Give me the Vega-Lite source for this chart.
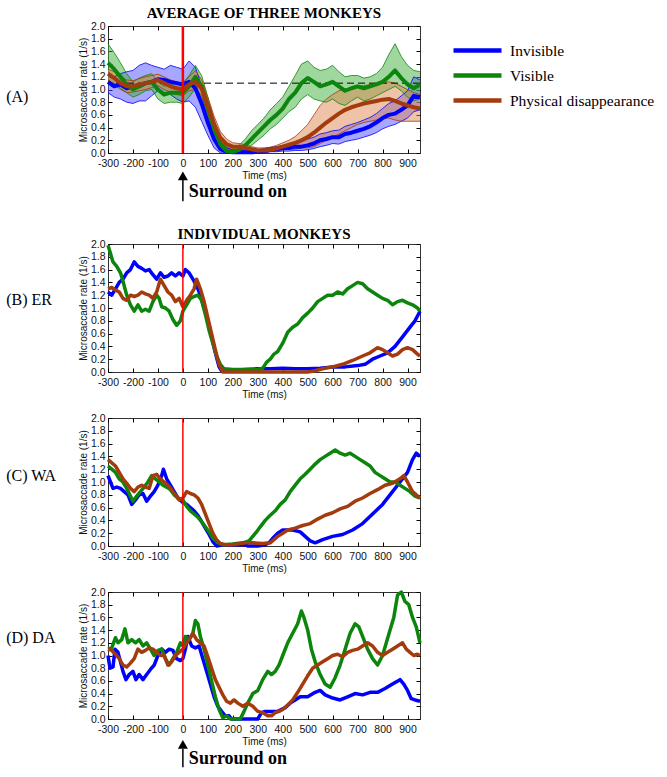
{
"$schema": "https://vega.github.io/schema/vega-lite/v6.json",
"padding": 5,
"config": {
 "view": {"stroke": "#333", "strokeWidth": 1},
 "axis": {"grid": false, "domain": false, "tickColor": "#000", "tickWidth": 1, "tickSize": -4, "labelOverlap": false, "labelFlush": false, "labelFont": "Liberation Sans", "labelFontSize": 10.5, "labelColor": "#111", "titleFont": "Liberation Sans", "titleFontSize": 10, "titleFontWeight": "normal", "titleColor": "#111"},
 "title": {"font": "Liberation Serif", "fontSize": 15, "fontWeight": "bold", "color": "#000", "frame": "group", "anchor": "middle"}
},
"resolve": {"scale": {"color": "independent", "fill": "independent"}},
"spacing": 23,
"datasets": {
 "avg": [
  {"c":"Invisible","t":-300,"v":1.12,"lo":0.95,"hi":1.22},{"c":"Invisible","t":-275,"v":1.05,"lo":0.88,"hi":1.2},{"c":"Invisible","t":-250,"v":1.08,"lo":0.85,"hi":1.25},{"c":"Invisible","t":-225,"v":1.02,"lo":0.8,"hi":1.28},{"c":"Invisible","t":-200,"v":1.05,"lo":0.78,"hi":1.3},{"c":"Invisible","t":-175,"v":1.05,"lo":0.82,"hi":1.38},{"c":"Invisible","t":-150,"v":1.1,"lo":0.82,"hi":1.42},{"c":"Invisible","t":-125,"v":1.12,"lo":0.9,"hi":1.38},{"c":"Invisible","t":-100,"v":1.16,"lo":0.98,"hi":1.35},{"c":"Invisible","t":-75,"v":1.15,"lo":0.95,"hi":1.32},{"c":"Invisible","t":-50,"v":1.12,"lo":0.92,"hi":1.38},{"c":"Invisible","t":-25,"v":1.1,"lo":0.85,"hi":1.35},{"c":"Invisible","t":0,"v":1.08,"lo":0.8,"hi":1.32},{"c":"Invisible","t":25,"v":1.12,"lo":0.82,"hi":1.45},{"c":"Invisible","t":50,"v":1.02,"lo":0.72,"hi":1.35},{"c":"Invisible","t":75,"v":0.78,"lo":0.5,"hi":1.05},{"c":"Invisible","t":100,"v":0.48,"lo":0.28,"hi":0.72},{"c":"Invisible","t":125,"v":0.22,"lo":0.08,"hi":0.42},{"c":"Invisible","t":150,"v":0.06,"lo":0.0,"hi":0.18},{"c":"Invisible","t":175,"v":0.02,"lo":0.0,"hi":0.08},{"c":"Invisible","t":200,"v":0.01,"lo":0.0,"hi":0.05},{"c":"Invisible","t":225,"v":0.01,"lo":0.0,"hi":0.04},{"c":"Invisible","t":250,"v":0.01,"lo":0.0,"hi":0.04},{"c":"Invisible","t":275,"v":0.01,"lo":0.0,"hi":0.04},{"c":"Invisible","t":300,"v":0.02,"lo":0.0,"hi":0.05},{"c":"Invisible","t":325,"v":0.03,"lo":0.0,"hi":0.07},{"c":"Invisible","t":350,"v":0.05,"lo":0.02,"hi":0.09},{"c":"Invisible","t":375,"v":0.06,"lo":0.02,"hi":0.1},{"c":"Invisible","t":400,"v":0.08,"lo":0.03,"hi":0.12},{"c":"Invisible","t":425,"v":0.08,"lo":0.03,"hi":0.13},{"c":"Invisible","t":450,"v":0.1,"lo":0.04,"hi":0.16},{"c":"Invisible","t":475,"v":0.1,"lo":0.04,"hi":0.18},{"c":"Invisible","t":500,"v":0.12,"lo":0.05,"hi":0.22},{"c":"Invisible","t":525,"v":0.15,"lo":0.07,"hi":0.25},{"c":"Invisible","t":550,"v":0.2,"lo":0.1,"hi":0.3},{"c":"Invisible","t":575,"v":0.22,"lo":0.12,"hi":0.32},{"c":"Invisible","t":600,"v":0.25,"lo":0.15,"hi":0.35},{"c":"Invisible","t":625,"v":0.25,"lo":0.14,"hi":0.36},{"c":"Invisible","t":650,"v":0.3,"lo":0.18,"hi":0.42},{"c":"Invisible","t":675,"v":0.32,"lo":0.2,"hi":0.45},{"c":"Invisible","t":700,"v":0.35,"lo":0.22,"hi":0.48},{"c":"Invisible","t":725,"v":0.38,"lo":0.25,"hi":0.52},{"c":"Invisible","t":750,"v":0.42,"lo":0.28,"hi":0.56},{"c":"Invisible","t":775,"v":0.48,"lo":0.32,"hi":0.62},{"c":"Invisible","t":800,"v":0.55,"lo":0.38,"hi":0.7},{"c":"Invisible","t":825,"v":0.6,"lo":0.42,"hi":0.78},{"c":"Invisible","t":850,"v":0.62,"lo":0.45,"hi":0.82},{"c":"Invisible","t":875,"v":0.68,"lo":0.5,"hi":0.9},{"c":"Invisible","t":900,"v":0.75,"lo":0.55,"hi":0.98},{"c":"Invisible","t":925,"v":0.9,"lo":0.65,"hi":1.2},{"c":"Invisible","t":950,"v":0.88,"lo":0.68,"hi":1.15},
  {"c":"Visible","t":-300,"v":1.42,"lo":1.12,"hi":1.72},{"c":"Visible","t":-275,"v":1.32,"lo":1.1,"hi":1.58},{"c":"Visible","t":-250,"v":1.2,"lo":1.02,"hi":1.42},{"c":"Visible","t":-225,"v":1.08,"lo":0.95,"hi":1.25},{"c":"Visible","t":-200,"v":1.0,"lo":0.88,"hi":1.12},{"c":"Visible","t":-175,"v":1.05,"lo":0.92,"hi":1.18},{"c":"Visible","t":-150,"v":1.1,"lo":0.98,"hi":1.22},{"c":"Visible","t":-125,"v":1.12,"lo":1.0,"hi":1.25},{"c":"Visible","t":-100,"v":1.0,"lo":0.85,"hi":1.12},{"c":"Visible","t":-75,"v":0.92,"lo":0.78,"hi":1.05},{"c":"Visible","t":-50,"v":0.95,"lo":0.8,"hi":1.08},{"c":"Visible","t":-25,"v":0.95,"lo":0.8,"hi":1.1},{"c":"Visible","t":0,"v":0.95,"lo":0.78,"hi":1.1},{"c":"Visible","t":25,"v":1.05,"lo":0.88,"hi":1.22},{"c":"Visible","t":50,"v":1.2,"lo":1.02,"hi":1.38},{"c":"Visible","t":75,"v":1.05,"lo":0.9,"hi":1.22},{"c":"Visible","t":100,"v":0.72,"lo":0.58,"hi":0.88},{"c":"Visible","t":125,"v":0.38,"lo":0.25,"hi":0.52},{"c":"Visible","t":150,"v":0.14,"lo":0.06,"hi":0.25},{"c":"Visible","t":175,"v":0.03,"lo":0.0,"hi":0.1},{"c":"Visible","t":200,"v":0.02,"lo":0.0,"hi":0.08},{"c":"Visible","t":225,"v":0.05,"lo":0.01,"hi":0.12},{"c":"Visible","t":250,"v":0.12,"lo":0.05,"hi":0.22},{"c":"Visible","t":275,"v":0.22,"lo":0.12,"hi":0.35},{"c":"Visible","t":300,"v":0.32,"lo":0.2,"hi":0.45},{"c":"Visible","t":325,"v":0.42,"lo":0.28,"hi":0.55},{"c":"Visible","t":350,"v":0.52,"lo":0.38,"hi":0.68},{"c":"Visible","t":375,"v":0.6,"lo":0.45,"hi":0.78},{"c":"Visible","t":400,"v":0.7,"lo":0.55,"hi":0.88},{"c":"Visible","t":425,"v":0.85,"lo":0.65,"hi":1.05},{"c":"Visible","t":450,"v":0.95,"lo":0.72,"hi":1.22},{"c":"Visible","t":475,"v":1.1,"lo":0.85,"hi":1.4},{"c":"Visible","t":500,"v":1.18,"lo":0.92,"hi":1.45},{"c":"Visible","t":525,"v":1.12,"lo":0.85,"hi":1.35},{"c":"Visible","t":550,"v":1.05,"lo":0.82,"hi":1.3},{"c":"Visible","t":575,"v":1.08,"lo":0.8,"hi":1.32},{"c":"Visible","t":600,"v":1.12,"lo":0.85,"hi":1.38},{"c":"Visible","t":625,"v":1.05,"lo":0.78,"hi":1.28},{"c":"Visible","t":650,"v":0.98,"lo":0.75,"hi":1.2},{"c":"Visible","t":675,"v":1.02,"lo":0.82,"hi":1.22},{"c":"Visible","t":700,"v":1.05,"lo":0.88,"hi":1.22},{"c":"Visible","t":725,"v":1.02,"lo":0.82,"hi":1.18},{"c":"Visible","t":750,"v":1.05,"lo":0.85,"hi":1.2},{"c":"Visible","t":775,"v":1.08,"lo":0.9,"hi":1.25},{"c":"Visible","t":800,"v":1.12,"lo":0.95,"hi":1.35},{"c":"Visible","t":825,"v":1.2,"lo":1.0,"hi":1.55},{"c":"Visible","t":850,"v":1.3,"lo":1.05,"hi":1.72},{"c":"Visible","t":875,"v":1.18,"lo":0.98,"hi":1.52},{"c":"Visible","t":900,"v":1.08,"lo":0.88,"hi":1.38},{"c":"Visible","t":925,"v":1.02,"lo":0.82,"hi":1.3},{"c":"Visible","t":950,"v":1.08,"lo":0.85,"hi":1.28},
  {"c":"Physical disappearance","t":-300,"v":1.25,"lo":1.15,"hi":1.32},{"c":"Physical disappearance","t":-275,"v":1.18,"lo":1.08,"hi":1.28},{"c":"Physical disappearance","t":-250,"v":1.1,"lo":1.0,"hi":1.2},{"c":"Physical disappearance","t":-225,"v":1.05,"lo":0.95,"hi":1.15},{"c":"Physical disappearance","t":-200,"v":1.05,"lo":0.96,"hi":1.14},{"c":"Physical disappearance","t":-175,"v":1.08,"lo":0.98,"hi":1.17},{"c":"Physical disappearance","t":-150,"v":1.1,"lo":1.0,"hi":1.2},{"c":"Physical disappearance","t":-125,"v":1.12,"lo":1.03,"hi":1.22},{"c":"Physical disappearance","t":-100,"v":1.15,"lo":1.06,"hi":1.24},{"c":"Physical disappearance","t":-75,"v":1.1,"lo":1.0,"hi":1.2},{"c":"Physical disappearance","t":-50,"v":1.05,"lo":0.96,"hi":1.15},{"c":"Physical disappearance","t":-25,"v":1.02,"lo":0.92,"hi":1.12},{"c":"Physical disappearance","t":0,"v":1.0,"lo":0.9,"hi":1.1},{"c":"Physical disappearance","t":25,"v":1.08,"lo":0.98,"hi":1.2},{"c":"Physical disappearance","t":50,"v":1.12,"lo":1.0,"hi":1.3},{"c":"Physical disappearance","t":75,"v":1.02,"lo":0.9,"hi":1.15},{"c":"Physical disappearance","t":100,"v":0.75,"lo":0.62,"hi":0.88},{"c":"Physical disappearance","t":125,"v":0.45,"lo":0.35,"hi":0.58},{"c":"Physical disappearance","t":150,"v":0.24,"lo":0.15,"hi":0.34},{"c":"Physical disappearance","t":175,"v":0.14,"lo":0.08,"hi":0.22},{"c":"Physical disappearance","t":200,"v":0.1,"lo":0.05,"hi":0.16},{"c":"Physical disappearance","t":225,"v":0.1,"lo":0.05,"hi":0.15},{"c":"Physical disappearance","t":250,"v":0.08,"lo":0.04,"hi":0.13},{"c":"Physical disappearance","t":275,"v":0.06,"lo":0.03,"hi":0.1},{"c":"Physical disappearance","t":300,"v":0.04,"lo":0.01,"hi":0.08},{"c":"Physical disappearance","t":325,"v":0.04,"lo":0.01,"hi":0.08},{"c":"Physical disappearance","t":350,"v":0.05,"lo":0.02,"hi":0.09},{"c":"Physical disappearance","t":375,"v":0.07,"lo":0.03,"hi":0.12},{"c":"Physical disappearance","t":400,"v":0.1,"lo":0.05,"hi":0.16},{"c":"Physical disappearance","t":425,"v":0.13,"lo":0.06,"hi":0.2},{"c":"Physical disappearance","t":450,"v":0.16,"lo":0.06,"hi":0.26},{"c":"Physical disappearance","t":475,"v":0.2,"lo":0.08,"hi":0.35},{"c":"Physical disappearance","t":500,"v":0.25,"lo":0.08,"hi":0.45},{"c":"Physical disappearance","t":525,"v":0.32,"lo":0.1,"hi":0.6},{"c":"Physical disappearance","t":550,"v":0.4,"lo":0.15,"hi":0.75},{"c":"Physical disappearance","t":575,"v":0.48,"lo":0.2,"hi":0.85},{"c":"Physical disappearance","t":600,"v":0.55,"lo":0.25,"hi":0.92},{"c":"Physical disappearance","t":625,"v":0.62,"lo":0.3,"hi":0.98},{"c":"Physical disappearance","t":650,"v":0.68,"lo":0.35,"hi":1.0},{"c":"Physical disappearance","t":675,"v":0.72,"lo":0.4,"hi":1.02},{"c":"Physical disappearance","t":700,"v":0.75,"lo":0.45,"hi":1.05},{"c":"Physical disappearance","t":725,"v":0.78,"lo":0.48,"hi":1.06},{"c":"Physical disappearance","t":750,"v":0.8,"lo":0.5,"hi":1.08},{"c":"Physical disappearance","t":775,"v":0.82,"lo":0.52,"hi":1.1},{"c":"Physical disappearance","t":800,"v":0.84,"lo":0.55,"hi":1.12},{"c":"Physical disappearance","t":825,"v":0.85,"lo":0.55,"hi":1.12},{"c":"Physical disappearance","t":850,"v":0.82,"lo":0.52,"hi":1.1},{"c":"Physical disappearance","t":875,"v":0.78,"lo":0.5,"hi":1.05},{"c":"Physical disappearance","t":900,"v":0.75,"lo":0.5,"hi":1.0},{"c":"Physical disappearance","t":925,"v":0.72,"lo":0.5,"hi":0.95},{"c":"Physical disappearance","t":950,"v":0.7,"lo":0.5,"hi":0.92}
 ],
 "ind": [
  {"p":"B","c":"Invisible","t":-300,"v":1.25},{"p":"B","c":"Invisible","t":-285,"v":1.2},{"p":"B","c":"Invisible","t":-270,"v":1.3},{"p":"B","c":"Invisible","t":-255,"v":1.4},{"p":"B","c":"Invisible","t":-240,"v":1.45},{"p":"B","c":"Invisible","t":-225,"v":1.55},{"p":"B","c":"Invisible","t":-210,"v":1.6},{"p":"B","c":"Invisible","t":-195,"v":1.72},{"p":"B","c":"Invisible","t":-180,"v":1.65},{"p":"B","c":"Invisible","t":-165,"v":1.62},{"p":"B","c":"Invisible","t":-150,"v":1.58},{"p":"B","c":"Invisible","t":-135,"v":1.6},{"p":"B","c":"Invisible","t":-120,"v":1.52},{"p":"B","c":"Invisible","t":-105,"v":1.45},{"p":"B","c":"Invisible","t":-90,"v":1.55},{"p":"B","c":"Invisible","t":-75,"v":1.48},{"p":"B","c":"Invisible","t":-60,"v":1.5},{"p":"B","c":"Invisible","t":-45,"v":1.55},{"p":"B","c":"Invisible","t":-30,"v":1.5},{"p":"B","c":"Invisible","t":-15,"v":1.55},{"p":"B","c":"Invisible","t":0,"v":1.5},{"p":"B","c":"Invisible","t":10,"v":1.6},{"p":"B","c":"Invisible","t":25,"v":1.55},{"p":"B","c":"Invisible","t":40,"v":1.45},{"p":"B","c":"Invisible","t":55,"v":1.35},{"p":"B","c":"Invisible","t":70,"v":1.2},{"p":"B","c":"Invisible","t":85,"v":1.0},{"p":"B","c":"Invisible","t":100,"v":0.8},{"p":"B","c":"Invisible","t":115,"v":0.55},{"p":"B","c":"Invisible","t":130,"v":0.3},{"p":"B","c":"Invisible","t":145,"v":0.08},{"p":"B","c":"Invisible","t":155,"v":0.02},{"p":"B","c":"Invisible","t":200,"v":0.02},{"p":"B","c":"Invisible","t":250,"v":0.04},{"p":"B","c":"Invisible","t":300,"v":0.05},{"p":"B","c":"Invisible","t":350,"v":0.05},{"p":"B","c":"Invisible","t":400,"v":0.06},{"p":"B","c":"Invisible","t":450,"v":0.05},{"p":"B","c":"Invisible","t":500,"v":0.05},{"p":"B","c":"Invisible","t":550,"v":0.06},{"p":"B","c":"Invisible","t":600,"v":0.08},{"p":"B","c":"Invisible","t":650,"v":0.08},{"p":"B","c":"Invisible","t":700,"v":0.1},{"p":"B","c":"Invisible","t":730,"v":0.12},{"p":"B","c":"Invisible","t":760,"v":0.2},{"p":"B","c":"Invisible","t":790,"v":0.25},{"p":"B","c":"Invisible","t":820,"v":0.3},{"p":"B","c":"Invisible","t":850,"v":0.4},{"p":"B","c":"Invisible","t":880,"v":0.55},{"p":"B","c":"Invisible","t":910,"v":0.7},{"p":"B","c":"Invisible","t":930,"v":0.8},{"p":"B","c":"Invisible","t":950,"v":0.95},
  {"p":"B","c":"Visible","t":-300,"v":1.98},{"p":"B","c":"Visible","t":-290,"v":1.85},{"p":"B","c":"Visible","t":-280,"v":1.72},{"p":"B","c":"Visible","t":-265,"v":1.65},{"p":"B","c":"Visible","t":-250,"v":1.55},{"p":"B","c":"Visible","t":-240,"v":1.42},{"p":"B","c":"Visible","t":-225,"v":1.2},{"p":"B","c":"Visible","t":-210,"v":1.05},{"p":"B","c":"Visible","t":-195,"v":0.95},{"p":"B","c":"Visible","t":-180,"v":1.05},{"p":"B","c":"Visible","t":-165,"v":0.95},{"p":"B","c":"Visible","t":-150,"v":0.98},{"p":"B","c":"Visible","t":-135,"v":0.95},{"p":"B","c":"Visible","t":-120,"v":1.1},{"p":"B","c":"Visible","t":-105,"v":1.2},{"p":"B","c":"Visible","t":-95,"v":1.15},{"p":"B","c":"Visible","t":-85,"v":1.02},{"p":"B","c":"Visible","t":-70,"v":1.0},{"p":"B","c":"Visible","t":-55,"v":0.95},{"p":"B","c":"Visible","t":-40,"v":0.82},{"p":"B","c":"Visible","t":-25,"v":0.73},{"p":"B","c":"Visible","t":-10,"v":0.8},{"p":"B","c":"Visible","t":0,"v":0.95},{"p":"B","c":"Visible","t":15,"v":1.05},{"p":"B","c":"Visible","t":30,"v":1.15},{"p":"B","c":"Visible","t":45,"v":1.18},{"p":"B","c":"Visible","t":60,"v":1.2},{"p":"B","c":"Visible","t":75,"v":1.12},{"p":"B","c":"Visible","t":90,"v":0.9},{"p":"B","c":"Visible","t":105,"v":0.65},{"p":"B","c":"Visible","t":120,"v":0.45},{"p":"B","c":"Visible","t":135,"v":0.25},{"p":"B","c":"Visible","t":150,"v":0.12},{"p":"B","c":"Visible","t":165,"v":0.05},{"p":"B","c":"Visible","t":200,"v":0.04},{"p":"B","c":"Visible","t":250,"v":0.04},{"p":"B","c":"Visible","t":300,"v":0.04},{"p":"B","c":"Visible","t":320,"v":0.06},{"p":"B","c":"Visible","t":335,"v":0.15},{"p":"B","c":"Visible","t":350,"v":0.2},{"p":"B","c":"Visible","t":365,"v":0.28},{"p":"B","c":"Visible","t":380,"v":0.32},{"p":"B","c":"Visible","t":400,"v":0.45},{"p":"B","c":"Visible","t":420,"v":0.62},{"p":"B","c":"Visible","t":440,"v":0.7},{"p":"B","c":"Visible","t":460,"v":0.75},{"p":"B","c":"Visible","t":480,"v":0.85},{"p":"B","c":"Visible","t":500,"v":0.92},{"p":"B","c":"Visible","t":520,"v":1.0},{"p":"B","c":"Visible","t":540,"v":1.1},{"p":"B","c":"Visible","t":560,"v":1.15},{"p":"B","c":"Visible","t":580,"v":1.2},{"p":"B","c":"Visible","t":600,"v":1.2},{"p":"B","c":"Visible","t":620,"v":1.25},{"p":"B","c":"Visible","t":640,"v":1.22},{"p":"B","c":"Visible","t":660,"v":1.3},{"p":"B","c":"Visible","t":680,"v":1.35},{"p":"B","c":"Visible","t":700,"v":1.4},{"p":"B","c":"Visible","t":720,"v":1.38},{"p":"B","c":"Visible","t":740,"v":1.3},{"p":"B","c":"Visible","t":760,"v":1.25},{"p":"B","c":"Visible","t":780,"v":1.2},{"p":"B","c":"Visible","t":800,"v":1.15},{"p":"B","c":"Visible","t":820,"v":1.12},{"p":"B","c":"Visible","t":840,"v":1.05},{"p":"B","c":"Visible","t":860,"v":1.1},{"p":"B","c":"Visible","t":880,"v":1.12},{"p":"B","c":"Visible","t":900,"v":1.08},{"p":"B","c":"Visible","t":920,"v":1.05},{"p":"B","c":"Visible","t":940,"v":1.0},{"p":"B","c":"Visible","t":950,"v":0.95},
  {"p":"B","c":"Physical disappearance","t":-300,"v":1.3},{"p":"B","c":"Physical disappearance","t":-285,"v":1.32},{"p":"B","c":"Physical disappearance","t":-270,"v":1.28},{"p":"B","c":"Physical disappearance","t":-255,"v":1.25},{"p":"B","c":"Physical disappearance","t":-240,"v":1.15},{"p":"B","c":"Physical disappearance","t":-225,"v":1.12},{"p":"B","c":"Physical disappearance","t":-210,"v":1.2},{"p":"B","c":"Physical disappearance","t":-195,"v":1.18},{"p":"B","c":"Physical disappearance","t":-180,"v":1.2},{"p":"B","c":"Physical disappearance","t":-165,"v":1.25},{"p":"B","c":"Physical disappearance","t":-150,"v":1.22},{"p":"B","c":"Physical disappearance","t":-135,"v":1.2},{"p":"B","c":"Physical disappearance","t":-120,"v":1.15},{"p":"B","c":"Physical disappearance","t":-105,"v":1.25},{"p":"B","c":"Physical disappearance","t":-90,"v":1.45},{"p":"B","c":"Physical disappearance","t":-75,"v":1.35},{"p":"B","c":"Physical disappearance","t":-60,"v":1.25},{"p":"B","c":"Physical disappearance","t":-45,"v":1.2},{"p":"B","c":"Physical disappearance","t":-30,"v":1.1},{"p":"B","c":"Physical disappearance","t":-15,"v":1.15},{"p":"B","c":"Physical disappearance","t":0,"v":1.02},{"p":"B","c":"Physical disappearance","t":15,"v":1.12},{"p":"B","c":"Physical disappearance","t":30,"v":1.2},{"p":"B","c":"Physical disappearance","t":45,"v":1.3},{"p":"B","c":"Physical disappearance","t":55,"v":1.45},{"p":"B","c":"Physical disappearance","t":70,"v":1.3},{"p":"B","c":"Physical disappearance","t":85,"v":1.1},{"p":"B","c":"Physical disappearance","t":100,"v":0.85},{"p":"B","c":"Physical disappearance","t":115,"v":0.6},{"p":"B","c":"Physical disappearance","t":130,"v":0.35},{"p":"B","c":"Physical disappearance","t":145,"v":0.12},{"p":"B","c":"Physical disappearance","t":160,"v":0.0},{"p":"B","c":"Physical disappearance","t":300,"v":0.0},{"p":"B","c":"Physical disappearance","t":500,"v":0.0},{"p":"B","c":"Physical disappearance","t":530,"v":0.02},{"p":"B","c":"Physical disappearance","t":560,"v":0.05},{"p":"B","c":"Physical disappearance","t":600,"v":0.08},{"p":"B","c":"Physical disappearance","t":640,"v":0.12},{"p":"B","c":"Physical disappearance","t":680,"v":0.18},{"p":"B","c":"Physical disappearance","t":720,"v":0.25},{"p":"B","c":"Physical disappearance","t":750,"v":0.3},{"p":"B","c":"Physical disappearance","t":780,"v":0.38},{"p":"B","c":"Physical disappearance","t":800,"v":0.35},{"p":"B","c":"Physical disappearance","t":820,"v":0.3},{"p":"B","c":"Physical disappearance","t":840,"v":0.25},{"p":"B","c":"Physical disappearance","t":860,"v":0.28},{"p":"B","c":"Physical disappearance","t":880,"v":0.35},{"p":"B","c":"Physical disappearance","t":900,"v":0.38},{"p":"B","c":"Physical disappearance","t":920,"v":0.35},{"p":"B","c":"Physical disappearance","t":940,"v":0.28},{"p":"B","c":"Physical disappearance","t":950,"v":0.25},
  {"p":"C","c":"Invisible","t":-300,"v":1.1},{"p":"C","c":"Invisible","t":-290,"v":1.0},{"p":"C","c":"Invisible","t":-280,"v":0.9},{"p":"C","c":"Invisible","t":-265,"v":0.92},{"p":"C","c":"Invisible","t":-250,"v":0.9},{"p":"C","c":"Invisible","t":-235,"v":0.85},{"p":"C","c":"Invisible","t":-220,"v":0.8},{"p":"C","c":"Invisible","t":-205,"v":0.65},{"p":"C","c":"Invisible","t":-190,"v":0.72},{"p":"C","c":"Invisible","t":-175,"v":0.8},{"p":"C","c":"Invisible","t":-160,"v":0.82},{"p":"C","c":"Invisible","t":-145,"v":0.7},{"p":"C","c":"Invisible","t":-130,"v":0.78},{"p":"C","c":"Invisible","t":-115,"v":0.85},{"p":"C","c":"Invisible","t":-100,"v":0.95},{"p":"C","c":"Invisible","t":-85,"v":1.1},{"p":"C","c":"Invisible","t":-78,"v":1.2},{"p":"C","c":"Invisible","t":-65,"v":1.05},{"p":"C","c":"Invisible","t":-50,"v":0.95},{"p":"C","c":"Invisible","t":-35,"v":0.85},{"p":"C","c":"Invisible","t":-20,"v":0.75},{"p":"C","c":"Invisible","t":0,"v":0.68},{"p":"C","c":"Invisible","t":15,"v":0.65},{"p":"C","c":"Invisible","t":30,"v":0.6},{"p":"C","c":"Invisible","t":45,"v":0.55},{"p":"C","c":"Invisible","t":60,"v":0.48},{"p":"C","c":"Invisible","t":75,"v":0.38},{"p":"C","c":"Invisible","t":90,"v":0.28},{"p":"C","c":"Invisible","t":105,"v":0.18},{"p":"C","c":"Invisible","t":120,"v":0.07},{"p":"C","c":"Invisible","t":135,"v":0.0},{"p":"C","c":"Invisible","t":160,"v":0.02},{"p":"C","c":"Invisible","t":250,"v":0.02},{"p":"C","c":"Invisible","t":260,"v":0.0},{"p":"C","c":"Invisible","t":300,"v":0.0},{"p":"C","c":"Invisible","t":330,"v":0.02},{"p":"C","c":"Invisible","t":345,"v":0.05},{"p":"C","c":"Invisible","t":360,"v":0.12},{"p":"C","c":"Invisible","t":380,"v":0.2},{"p":"C","c":"Invisible","t":400,"v":0.25},{"p":"C","c":"Invisible","t":440,"v":0.25},{"p":"C","c":"Invisible","t":470,"v":0.22},{"p":"C","c":"Invisible","t":490,"v":0.15},{"p":"C","c":"Invisible","t":510,"v":0.08},{"p":"C","c":"Invisible","t":530,"v":0.05},{"p":"C","c":"Invisible","t":560,"v":0.1},{"p":"C","c":"Invisible","t":600,"v":0.15},{"p":"C","c":"Invisible","t":640,"v":0.18},{"p":"C","c":"Invisible","t":680,"v":0.25},{"p":"C","c":"Invisible","t":720,"v":0.35},{"p":"C","c":"Invisible","t":760,"v":0.5},{"p":"C","c":"Invisible","t":800,"v":0.65},{"p":"C","c":"Invisible","t":840,"v":0.85},{"p":"C","c":"Invisible","t":870,"v":1.0},{"p":"C","c":"Invisible","t":900,"v":1.15},{"p":"C","c":"Invisible","t":920,"v":1.35},{"p":"C","c":"Invisible","t":935,"v":1.45},{"p":"C","c":"Invisible","t":950,"v":1.4},
  {"p":"C","c":"Visible","t":-300,"v":1.25},{"p":"C","c":"Visible","t":-285,"v":1.2},{"p":"C","c":"Visible","t":-270,"v":1.15},{"p":"C","c":"Visible","t":-255,"v":1.05},{"p":"C","c":"Visible","t":-240,"v":1.0},{"p":"C","c":"Visible","t":-225,"v":0.9},{"p":"C","c":"Visible","t":-210,"v":0.78},{"p":"C","c":"Visible","t":-200,"v":0.7},{"p":"C","c":"Visible","t":-185,"v":0.78},{"p":"C","c":"Visible","t":-170,"v":0.85},{"p":"C","c":"Visible","t":-155,"v":0.92},{"p":"C","c":"Visible","t":-140,"v":1.0},{"p":"C","c":"Visible","t":-125,"v":1.1},{"p":"C","c":"Visible","t":-110,"v":1.05},{"p":"C","c":"Visible","t":-95,"v":1.0},{"p":"C","c":"Visible","t":-80,"v":0.95},{"p":"C","c":"Visible","t":-65,"v":0.92},{"p":"C","c":"Visible","t":-50,"v":0.88},{"p":"C","c":"Visible","t":-35,"v":0.8},{"p":"C","c":"Visible","t":-20,"v":0.75},{"p":"C","c":"Visible","t":0,"v":0.72},{"p":"C","c":"Visible","t":15,"v":0.62},{"p":"C","c":"Visible","t":30,"v":0.55},{"p":"C","c":"Visible","t":45,"v":0.5},{"p":"C","c":"Visible","t":60,"v":0.45},{"p":"C","c":"Visible","t":75,"v":0.38},{"p":"C","c":"Visible","t":90,"v":0.3},{"p":"C","c":"Visible","t":105,"v":0.22},{"p":"C","c":"Visible","t":120,"v":0.12},{"p":"C","c":"Visible","t":140,"v":0.05},{"p":"C","c":"Visible","t":160,"v":0.02},{"p":"C","c":"Visible","t":200,"v":0.03},{"p":"C","c":"Visible","t":240,"v":0.05},{"p":"C","c":"Visible","t":265,"v":0.08},{"p":"C","c":"Visible","t":280,"v":0.15},{"p":"C","c":"Visible","t":295,"v":0.22},{"p":"C","c":"Visible","t":310,"v":0.3},{"p":"C","c":"Visible","t":330,"v":0.4},{"p":"C","c":"Visible","t":350,"v":0.48},{"p":"C","c":"Visible","t":370,"v":0.55},{"p":"C","c":"Visible","t":390,"v":0.65},{"p":"C","c":"Visible","t":410,"v":0.72},{"p":"C","c":"Visible","t":430,"v":0.85},{"p":"C","c":"Visible","t":450,"v":0.95},{"p":"C","c":"Visible","t":470,"v":1.05},{"p":"C","c":"Visible","t":490,"v":1.12},{"p":"C","c":"Visible","t":510,"v":1.2},{"p":"C","c":"Visible","t":530,"v":1.28},{"p":"C","c":"Visible","t":550,"v":1.35},{"p":"C","c":"Visible","t":570,"v":1.4},{"p":"C","c":"Visible","t":590,"v":1.45},{"p":"C","c":"Visible","t":610,"v":1.5},{"p":"C","c":"Visible","t":630,"v":1.45},{"p":"C","c":"Visible","t":650,"v":1.42},{"p":"C","c":"Visible","t":670,"v":1.45},{"p":"C","c":"Visible","t":690,"v":1.4},{"p":"C","c":"Visible","t":710,"v":1.35},{"p":"C","c":"Visible","t":730,"v":1.3},{"p":"C","c":"Visible","t":750,"v":1.25},{"p":"C","c":"Visible","t":770,"v":1.15},{"p":"C","c":"Visible","t":790,"v":1.1},{"p":"C","c":"Visible","t":810,"v":1.05},{"p":"C","c":"Visible","t":830,"v":1.0},{"p":"C","c":"Visible","t":850,"v":1.0},{"p":"C","c":"Visible","t":870,"v":0.95},{"p":"C","c":"Visible","t":890,"v":0.9},{"p":"C","c":"Visible","t":910,"v":0.85},{"p":"C","c":"Visible","t":930,"v":0.78},{"p":"C","c":"Visible","t":950,"v":0.75},
  {"p":"C","c":"Physical disappearance","t":-300,"v":1.35},{"p":"C","c":"Physical disappearance","t":-285,"v":1.3},{"p":"C","c":"Physical disappearance","t":-270,"v":1.25},{"p":"C","c":"Physical disappearance","t":-255,"v":1.15},{"p":"C","c":"Physical disappearance","t":-240,"v":1.05},{"p":"C","c":"Physical disappearance","t":-225,"v":0.98},{"p":"C","c":"Physical disappearance","t":-210,"v":0.9},{"p":"C","c":"Physical disappearance","t":-195,"v":0.85},{"p":"C","c":"Physical disappearance","t":-180,"v":0.92},{"p":"C","c":"Physical disappearance","t":-165,"v":0.95},{"p":"C","c":"Physical disappearance","t":-150,"v":0.92},{"p":"C","c":"Physical disappearance","t":-135,"v":0.9},{"p":"C","c":"Physical disappearance","t":-120,"v":1.1},{"p":"C","c":"Physical disappearance","t":-105,"v":1.12},{"p":"C","c":"Physical disappearance","t":-90,"v":1.05},{"p":"C","c":"Physical disappearance","t":-75,"v":1.0},{"p":"C","c":"Physical disappearance","t":-60,"v":0.95},{"p":"C","c":"Physical disappearance","t":-45,"v":0.88},{"p":"C","c":"Physical disappearance","t":-30,"v":0.8},{"p":"C","c":"Physical disappearance","t":-15,"v":0.72},{"p":"C","c":"Physical disappearance","t":0,"v":0.75},{"p":"C","c":"Physical disappearance","t":15,"v":0.85},{"p":"C","c":"Physical disappearance","t":30,"v":0.82},{"p":"C","c":"Physical disappearance","t":45,"v":0.8},{"p":"C","c":"Physical disappearance","t":60,"v":0.75},{"p":"C","c":"Physical disappearance","t":75,"v":0.65},{"p":"C","c":"Physical disappearance","t":90,"v":0.5},{"p":"C","c":"Physical disappearance","t":105,"v":0.35},{"p":"C","c":"Physical disappearance","t":120,"v":0.2},{"p":"C","c":"Physical disappearance","t":135,"v":0.1},{"p":"C","c":"Physical disappearance","t":150,"v":0.04},{"p":"C","c":"Physical disappearance","t":170,"v":0.02},{"p":"C","c":"Physical disappearance","t":200,"v":0.02},{"p":"C","c":"Physical disappearance","t":250,"v":0.05},{"p":"C","c":"Physical disappearance","t":280,"v":0.05},{"p":"C","c":"Physical disappearance","t":320,"v":0.04},{"p":"C","c":"Physical disappearance","t":350,"v":0.05},{"p":"C","c":"Physical disappearance","t":365,"v":0.1},{"p":"C","c":"Physical disappearance","t":380,"v":0.15},{"p":"C","c":"Physical disappearance","t":400,"v":0.2},{"p":"C","c":"Physical disappearance","t":420,"v":0.25},{"p":"C","c":"Physical disappearance","t":450,"v":0.28},{"p":"C","c":"Physical disappearance","t":480,"v":0.32},{"p":"C","c":"Physical disappearance","t":510,"v":0.35},{"p":"C","c":"Physical disappearance","t":540,"v":0.42},{"p":"C","c":"Physical disappearance","t":570,"v":0.48},{"p":"C","c":"Physical disappearance","t":600,"v":0.52},{"p":"C","c":"Physical disappearance","t":630,"v":0.58},{"p":"C","c":"Physical disappearance","t":660,"v":0.62},{"p":"C","c":"Physical disappearance","t":690,"v":0.7},{"p":"C","c":"Physical disappearance","t":720,"v":0.75},{"p":"C","c":"Physical disappearance","t":750,"v":0.82},{"p":"C","c":"Physical disappearance","t":780,"v":0.88},{"p":"C","c":"Physical disappearance","t":810,"v":0.95},{"p":"C","c":"Physical disappearance","t":840,"v":0.98},{"p":"C","c":"Physical disappearance","t":870,"v":1.05},{"p":"C","c":"Physical disappearance","t":885,"v":1.1},{"p":"C","c":"Physical disappearance","t":900,"v":1.0},{"p":"C","c":"Physical disappearance","t":920,"v":0.85},{"p":"C","c":"Physical disappearance","t":935,"v":0.8},{"p":"C","c":"Physical disappearance","t":950,"v":0.75},
  {"p":"D","c":"Invisible","t":-300,"v":1.0},{"p":"D","c":"Invisible","t":-292,"v":0.8},{"p":"D","c":"Invisible","t":-280,"v":0.82},{"p":"D","c":"Invisible","t":-272,"v":1.1},{"p":"D","c":"Invisible","t":-260,"v":1.05},{"p":"D","c":"Invisible","t":-250,"v":0.9},{"p":"D","c":"Invisible","t":-240,"v":0.75},{"p":"D","c":"Invisible","t":-228,"v":0.62},{"p":"D","c":"Invisible","t":-215,"v":0.7},{"p":"D","c":"Invisible","t":-200,"v":0.75},{"p":"D","c":"Invisible","t":-188,"v":0.62},{"p":"D","c":"Invisible","t":-175,"v":0.7},{"p":"D","c":"Invisible","t":-160,"v":0.62},{"p":"D","c":"Invisible","t":-145,"v":0.7},{"p":"D","c":"Invisible","t":-130,"v":0.78},{"p":"D","c":"Invisible","t":-115,"v":0.85},{"p":"D","c":"Invisible","t":-100,"v":1.0},{"p":"D","c":"Invisible","t":-85,"v":1.1},{"p":"D","c":"Invisible","t":-70,"v":1.05},{"p":"D","c":"Invisible","t":-55,"v":1.1},{"p":"D","c":"Invisible","t":-40,"v":1.08},{"p":"D","c":"Invisible","t":-25,"v":0.95},{"p":"D","c":"Invisible","t":-10,"v":0.92},{"p":"D","c":"Invisible","t":0,"v":0.95},{"p":"D","c":"Invisible","t":10,"v":1.1},{"p":"D","c":"Invisible","t":20,"v":1.3},{"p":"D","c":"Invisible","t":35,"v":1.15},{"p":"D","c":"Invisible","t":50,"v":1.12},{"p":"D","c":"Invisible","t":65,"v":1.15},{"p":"D","c":"Invisible","t":80,"v":0.95},{"p":"D","c":"Invisible","t":95,"v":0.75},{"p":"D","c":"Invisible","t":110,"v":0.55},{"p":"D","c":"Invisible","t":125,"v":0.35},{"p":"D","c":"Invisible","t":140,"v":0.2},{"p":"D","c":"Invisible","t":155,"v":0.12},{"p":"D","c":"Invisible","t":170,"v":0.05},{"p":"D","c":"Invisible","t":185,"v":0.05},{"p":"D","c":"Invisible","t":195,"v":0.0},{"p":"D","c":"Invisible","t":300,"v":0.0},{"p":"D","c":"Invisible","t":315,"v":0.1},{"p":"D","c":"Invisible","t":330,"v":0.12},{"p":"D","c":"Invisible","t":380,"v":0.12},{"p":"D","c":"Invisible","t":410,"v":0.18},{"p":"D","c":"Invisible","t":430,"v":0.25},{"p":"D","c":"Invisible","t":450,"v":0.3},{"p":"D","c":"Invisible","t":470,"v":0.35},{"p":"D","c":"Invisible","t":500,"v":0.35},{"p":"D","c":"Invisible","t":530,"v":0.42},{"p":"D","c":"Invisible","t":550,"v":0.45},{"p":"D","c":"Invisible","t":570,"v":0.38},{"p":"D","c":"Invisible","t":600,"v":0.33},{"p":"D","c":"Invisible","t":630,"v":0.3},{"p":"D","c":"Invisible","t":660,"v":0.35},{"p":"D","c":"Invisible","t":690,"v":0.4},{"p":"D","c":"Invisible","t":720,"v":0.38},{"p":"D","c":"Invisible","t":750,"v":0.42},{"p":"D","c":"Invisible","t":780,"v":0.42},{"p":"D","c":"Invisible","t":810,"v":0.48},{"p":"D","c":"Invisible","t":840,"v":0.55},{"p":"D","c":"Invisible","t":870,"v":0.62},{"p":"D","c":"Invisible","t":885,"v":0.55},{"p":"D","c":"Invisible","t":900,"v":0.45},{"p":"D","c":"Invisible","t":915,"v":0.32},{"p":"D","c":"Invisible","t":930,"v":0.3},{"p":"D","c":"Invisible","t":950,"v":0.28},
  {"p":"D","c":"Visible","t":-300,"v":1.1},{"p":"D","c":"Visible","t":-285,"v":1.12},{"p":"D","c":"Visible","t":-270,"v":1.28},{"p":"D","c":"Visible","t":-260,"v":1.2},{"p":"D","c":"Visible","t":-245,"v":1.25},{"p":"D","c":"Visible","t":-232,"v":1.42},{"p":"D","c":"Visible","t":-220,"v":1.2},{"p":"D","c":"Visible","t":-205,"v":1.25},{"p":"D","c":"Visible","t":-190,"v":1.2},{"p":"D","c":"Visible","t":-175,"v":1.25},{"p":"D","c":"Visible","t":-160,"v":1.15},{"p":"D","c":"Visible","t":-145,"v":1.2},{"p":"D","c":"Visible","t":-130,"v":1.1},{"p":"D","c":"Visible","t":-115,"v":1.0},{"p":"D","c":"Visible","t":-100,"v":1.08},{"p":"D","c":"Visible","t":-85,"v":1.1},{"p":"D","c":"Visible","t":-70,"v":0.95},{"p":"D","c":"Visible","t":-55,"v":0.85},{"p":"D","c":"Visible","t":-40,"v":0.95},{"p":"D","c":"Visible","t":-25,"v":1.05},{"p":"D","c":"Visible","t":-10,"v":1.2},{"p":"D","c":"Visible","t":0,"v":1.15},{"p":"D","c":"Visible","t":10,"v":1.3},{"p":"D","c":"Visible","t":25,"v":1.25},{"p":"D","c":"Visible","t":40,"v":1.35},{"p":"D","c":"Visible","t":50,"v":1.55},{"p":"D","c":"Visible","t":60,"v":1.5},{"p":"D","c":"Visible","t":70,"v":1.3},{"p":"D","c":"Visible","t":85,"v":1.1},{"p":"D","c":"Visible","t":100,"v":0.85},{"p":"D","c":"Visible","t":115,"v":0.6},{"p":"D","c":"Visible","t":130,"v":0.35},{"p":"D","c":"Visible","t":145,"v":0.15},{"p":"D","c":"Visible","t":160,"v":0.02},{"p":"D","c":"Visible","t":175,"v":0.05},{"p":"D","c":"Visible","t":190,"v":0.0},{"p":"D","c":"Visible","t":230,"v":0.0},{"p":"D","c":"Visible","t":245,"v":0.12},{"p":"D","c":"Visible","t":260,"v":0.25},{"p":"D","c":"Visible","t":280,"v":0.4},{"p":"D","c":"Visible","t":300,"v":0.45},{"p":"D","c":"Visible","t":320,"v":0.62},{"p":"D","c":"Visible","t":340,"v":0.75},{"p":"D","c":"Visible","t":355,"v":0.7},{"p":"D","c":"Visible","t":370,"v":0.75},{"p":"D","c":"Visible","t":385,"v":0.85},{"p":"D","c":"Visible","t":400,"v":1.0},{"p":"D","c":"Visible","t":420,"v":1.2},{"p":"D","c":"Visible","t":440,"v":1.35},{"p":"D","c":"Visible","t":460,"v":1.5},{"p":"D","c":"Visible","t":475,"v":1.7},{"p":"D","c":"Visible","t":485,"v":1.6},{"p":"D","c":"Visible","t":500,"v":1.4},{"p":"D","c":"Visible","t":515,"v":1.1},{"p":"D","c":"Visible","t":530,"v":0.9},{"p":"D","c":"Visible","t":550,"v":0.7},{"p":"D","c":"Visible","t":570,"v":0.55},{"p":"D","c":"Visible","t":590,"v":0.5},{"p":"D","c":"Visible","t":610,"v":0.65},{"p":"D","c":"Visible","t":630,"v":0.85},{"p":"D","c":"Visible","t":650,"v":1.1},{"p":"D","c":"Visible","t":670,"v":1.35},{"p":"D","c":"Visible","t":690,"v":1.5},{"p":"D","c":"Visible","t":705,"v":1.45},{"p":"D","c":"Visible","t":720,"v":1.3},{"p":"D","c":"Visible","t":740,"v":1.1},{"p":"D","c":"Visible","t":760,"v":0.95},{"p":"D","c":"Visible","t":780,"v":0.85},{"p":"D","c":"Visible","t":800,"v":1.0},{"p":"D","c":"Visible","t":815,"v":1.2},{"p":"D","c":"Visible","t":830,"v":1.4},{"p":"D","c":"Visible","t":845,"v":1.6},{"p":"D","c":"Visible","t":860,"v":1.95},{"p":"D","c":"Visible","t":875,"v":2.0},{"p":"D","c":"Visible","t":890,"v":1.85},{"p":"D","c":"Visible","t":905,"v":1.8},{"p":"D","c":"Visible","t":920,"v":1.6},{"p":"D","c":"Visible","t":935,"v":1.45},{"p":"D","c":"Visible","t":950,"v":1.2},
  {"p":"D","c":"Physical disappearance","t":-300,"v":1.1},{"p":"D","c":"Physical disappearance","t":-285,"v":1.08},{"p":"D","c":"Physical disappearance","t":-270,"v":1.02},{"p":"D","c":"Physical disappearance","t":-255,"v":0.95},{"p":"D","c":"Physical disappearance","t":-240,"v":0.85},{"p":"D","c":"Physical disappearance","t":-225,"v":0.82},{"p":"D","c":"Physical disappearance","t":-210,"v":0.88},{"p":"D","c":"Physical disappearance","t":-195,"v":0.95},{"p":"D","c":"Physical disappearance","t":-180,"v":1.1},{"p":"D","c":"Physical disappearance","t":-165,"v":1.05},{"p":"D","c":"Physical disappearance","t":-150,"v":1.08},{"p":"D","c":"Physical disappearance","t":-135,"v":1.12},{"p":"D","c":"Physical disappearance","t":-120,"v":1.1},{"p":"D","c":"Physical disappearance","t":-105,"v":1.05},{"p":"D","c":"Physical disappearance","t":-90,"v":1.0},{"p":"D","c":"Physical disappearance","t":-75,"v":1.0},{"p":"D","c":"Physical disappearance","t":-60,"v":0.85},{"p":"D","c":"Physical disappearance","t":-45,"v":0.9},{"p":"D","c":"Physical disappearance","t":-30,"v":1.0},{"p":"D","c":"Physical disappearance","t":-15,"v":1.05},{"p":"D","c":"Physical disappearance","t":0,"v":1.1},{"p":"D","c":"Physical disappearance","t":15,"v":1.2},{"p":"D","c":"Physical disappearance","t":30,"v":1.28},{"p":"D","c":"Physical disappearance","t":40,"v":1.35},{"p":"D","c":"Physical disappearance","t":55,"v":1.25},{"p":"D","c":"Physical disappearance","t":70,"v":1.2},{"p":"D","c":"Physical disappearance","t":85,"v":1.15},{"p":"D","c":"Physical disappearance","t":100,"v":0.98},{"p":"D","c":"Physical disappearance","t":115,"v":0.8},{"p":"D","c":"Physical disappearance","t":130,"v":0.62},{"p":"D","c":"Physical disappearance","t":145,"v":0.5},{"p":"D","c":"Physical disappearance","t":160,"v":0.38},{"p":"D","c":"Physical disappearance","t":175,"v":0.28},{"p":"D","c":"Physical disappearance","t":190,"v":0.25},{"p":"D","c":"Physical disappearance","t":205,"v":0.3},{"p":"D","c":"Physical disappearance","t":220,"v":0.25},{"p":"D","c":"Physical disappearance","t":240,"v":0.2},{"p":"D","c":"Physical disappearance","t":260,"v":0.25},{"p":"D","c":"Physical disappearance","t":280,"v":0.2},{"p":"D","c":"Physical disappearance","t":300,"v":0.12},{"p":"D","c":"Physical disappearance","t":320,"v":0.1},{"p":"D","c":"Physical disappearance","t":340,"v":0.05},{"p":"D","c":"Physical disappearance","t":355,"v":0.05},{"p":"D","c":"Physical disappearance","t":370,"v":0.1},{"p":"D","c":"Physical disappearance","t":385,"v":0.12},{"p":"D","c":"Physical disappearance","t":400,"v":0.15},{"p":"D","c":"Physical disappearance","t":420,"v":0.22},{"p":"D","c":"Physical disappearance","t":440,"v":0.3},{"p":"D","c":"Physical disappearance","t":460,"v":0.42},{"p":"D","c":"Physical disappearance","t":480,"v":0.55},{"p":"D","c":"Physical disappearance","t":500,"v":0.68},{"p":"D","c":"Physical disappearance","t":520,"v":0.8},{"p":"D","c":"Physical disappearance","t":540,"v":0.85},{"p":"D","c":"Physical disappearance","t":560,"v":0.9},{"p":"D","c":"Physical disappearance","t":580,"v":0.95},{"p":"D","c":"Physical disappearance","t":600,"v":1.0},{"p":"D","c":"Physical disappearance","t":620,"v":1.02},{"p":"D","c":"Physical disappearance","t":640,"v":0.98},{"p":"D","c":"Physical disappearance","t":660,"v":1.05},{"p":"D","c":"Physical disappearance","t":680,"v":1.08},{"p":"D","c":"Physical disappearance","t":700,"v":1.1},{"p":"D","c":"Physical disappearance","t":720,"v":1.15},{"p":"D","c":"Physical disappearance","t":740,"v":1.2},{"p":"D","c":"Physical disappearance","t":760,"v":1.15},{"p":"D","c":"Physical disappearance","t":780,"v":1.05},{"p":"D","c":"Physical disappearance","t":800,"v":1.0},{"p":"D","c":"Physical disappearance","t":820,"v":1.05},{"p":"D","c":"Physical disappearance","t":840,"v":1.1},{"p":"D","c":"Physical disappearance","t":860,"v":1.15},{"p":"D","c":"Physical disappearance","t":880,"v":1.2},{"p":"D","c":"Physical disappearance","t":895,"v":1.1},{"p":"D","c":"Physical disappearance","t":910,"v":1.05},{"p":"D","c":"Physical disappearance","t":925,"v":1.0},{"p":"D","c":"Physical disappearance","t":940,"v":1.02},{"p":"D","c":"Physical disappearance","t":950,"v":1.0}
 ]
},
"vconcat": [
 {
  "width": 312, "height": 127,
  "title": {"text": "AVERAGE OF THREE MONKEYS", "offset": 0},
  "resolve": {"axis": {"x": "independent", "y": "independent"}},
  "layer": [
   {"data": {"name": "avg"}, "mark": {"type": "area", "opacity": 0.5},
    "encoding": {"x": {"field": "t", "type": "quantitative", "scale": {"domain": [-300, 950], "nice": false, "zero": false}, "axis": null},
     "y": {"field": "lo", "type": "quantitative", "scale": {"domain": [0, 2], "nice": false}, "axis": null}, "y2": {"field": "hi"},
     "fill": {"field": "c", "type": "nominal", "scale": {"domain": ["Physical disappearance", "Visible", "Invisible"], "range": ["#e08850", "#40b040", "#5050ff"]}, "legend": null}}},
   {"data": {"name": "avg"}, "mark": {"type": "line", "strokeWidth": 0.8},
    "encoding": {"x": {"field": "t", "type": "quantitative", "axis": null}, "y": {"field": "lo", "type": "quantitative", "axis": null},
     "color": {"field": "c", "type": "nominal", "scale": {"domain": ["Invisible", "Visible", "Physical disappearance"], "range": ["#0000ff", "#0c850c", "#a33b0d"]}}}},
   {"data": {"name": "avg"}, "mark": {"type": "line", "strokeWidth": 0.8},
    "encoding": {"x": {"field": "t", "type": "quantitative", "axis": null}, "y": {"field": "hi", "type": "quantitative", "axis": null},
     "color": {"field": "c", "type": "nominal"}}},
   {"data": {"values": [{}]}, "mark": {"type": "rule", "color": "#000", "strokeWidth": 1, "strokeDash": [7, 4]},
    "encoding": {"y": {"datum": 1.1, "type": "quantitative", "scale": {"domain": [0, 2], "nice": false}, "axis": {"orient": "right", "values": [0,0.2,0.4,0.6,0.8,1,1.2,1.4,1.6,1.8,2], "labels": false, "title": null}}}},
   {"data": {"name": "avg"}, "mark": {"type": "line", "strokeWidth": 4, "strokeJoin": "round"},
    "encoding": {"x": {"field": "t", "type": "quantitative", "axis": {"orient": "bottom", "values": [-300,-200,-100,0,100,200,300,400,500,600,700,800,900], "labelExpr": "'' + datum.value", "title": "Time (ms)", "labelPadding": 9, "titlePadding": 2}},
     "y": {"field": "v", "type": "quantitative", "axis": {"orient": "left", "values": [0,0.2,0.4,0.6,0.8,1,1.2,1.4,1.6,1.8,2], "format": ".1f", "title": "Microsaccade rate (1/s)", "labelPadding": 7, "titlePadding": 2}},
     "color": {"field": "c", "type": "nominal", "legend": {"orient": "right", "title": null, "offset": 31, "padding": 14, "symbolType": "M-3,0H3", "symbolStrokeWidth": 4.5, "symbolSize": 256, "labelFont": "Liberation Serif", "labelFontSize": 15.5, "labelColor": "#000", "rowPadding": 5, "labelOffset": 22}}}},
   {"data": {"values": [{}]}, "mark": {"type": "rule", "color": "#ff0000", "strokeWidth": 2.5},
    "encoding": {"x": {"datum": 0, "type": "quantitative", "axis": {"orient": "top", "values": [-300,-200,-100,0,100,200,300,400,500,600,700,800,900], "labels": false, "title": null}}}},
   {"data": {"values": [{}]}, "mark": {"type": "text", "text": "(A)", "align": "left", "baseline": "middle", "font": "Liberation Serif", "fontSize": 16, "color": "#000"},
    "encoding": {"x": {"datum": -708, "type": "quantitative", "axis": null}, "y": {"datum": 0.88, "type": "quantitative", "axis": null}}},
   {"data": {"values": [{}]}, "mark": {"type": "rule", "color": "#000", "strokeWidth": 1.5},
    "encoding": {"x": {"datum": 0, "type": "quantitative", "axis": null}, "y": {"datum": -0.42, "type": "quantitative", "axis": null}, "y2": {"datum": -0.76}}},
   {"data": {"values": [{}]}, "mark": {"type": "point", "shape": "triangle-up", "filled": true, "color": "#000", "opacity": 1, "size": 100},
    "encoding": {"x": {"datum": 0, "type": "quantitative", "axis": null}, "y": {"datum": -0.36, "type": "quantitative", "axis": null}}},
   {"data": {"values": [{}]}, "mark": {"type": "text", "text": "Surround on", "align": "left", "baseline": "alphabetic", "font": "Liberation Serif", "fontSize": 18, "fontWeight": "bold", "color": "#000"},
    "encoding": {"x": {"datum": 24, "type": "quantitative", "axis": null}, "y": {"datum": -0.69, "type": "quantitative", "axis": null}}}
  ]
 },
 {
 "spacing": 12,
 "resolve": {"scale": {"color": "independent"}},
 "vconcat": [
 {
  "width": 312, "height": 128,
  "title": {"text": "INDIVIDUAL MONKEYS", "offset": -3},
  "resolve": {"axis": {"x": "independent", "y": "independent"}},
  "layer": [
   {"data": {"name": "ind"}, "transform": [{"filter": "datum.p == 'B'"}], "mark": {"type": "line", "strokeWidth": 3.5, "strokeJoin": "round"},
    "encoding": {"x": {"field": "t", "type": "quantitative", "scale": {"domain": [-300, 950], "nice": false, "zero": false}, "axis": {"orient": "bottom", "values": [-300,-200,-100,0,100,200,300,400,500,600,700,800,900], "labelExpr": "'' + datum.value", "title": "Time (ms)", "labelPadding": 9, "titlePadding": 2}},
     "y": {"field": "v", "type": "quantitative", "scale": {"domain": [0, 2], "nice": false}, "axis": {"orient": "left", "values": [0,0.2,0.4,0.6,0.8,1,1.2,1.4,1.6,1.8,2], "format": ".1f", "title": "Microsaccade rate (1/s)", "labelPadding": 7, "titlePadding": 2}},
     "color": {"field": "c", "type": "nominal", "scale": {"domain": ["Invisible", "Visible", "Physical disappearance"], "range": ["#0000ff", "#0c850c", "#a33b0d"]}, "legend": null}}},
   {"data": {"values": [{}]}, "mark": {"type": "rule", "color": "#ff0000", "strokeWidth": 1.5},
    "encoding": {"x": {"datum": 0, "type": "quantitative", "axis": {"orient": "top", "values": [-300,-200,-100,0,100,200,300,400,500,600,700,800,900], "labels": false, "title": null}}}},
   {"data": {"values": [{}]}, "mark": {"type": "text", "text": "(B) ER", "align": "left", "baseline": "middle", "font": "Liberation Serif", "fontSize": 16, "color": "#000"},
    "encoding": {"x": {"datum": -708, "type": "quantitative", "axis": null}, "y": {"datum": 1.12, "type": "quantitative", "axis": {"orient": "right", "values": [0,0.2,0.4,0.6,0.8,1,1.2,1.4,1.6,1.8,2], "labels": false, "title": null}}}}
  ]
 },
 {
  "width": 312, "height": 128,
  "resolve": {"axis": {"x": "independent", "y": "independent"}},
  "layer": [
   {"data": {"name": "ind"}, "transform": [{"filter": "datum.p == 'C'"}], "mark": {"type": "line", "strokeWidth": 3.5, "strokeJoin": "round"},
    "encoding": {"x": {"field": "t", "type": "quantitative", "scale": {"domain": [-300, 950], "nice": false, "zero": false}, "axis": {"orient": "bottom", "values": [-300,-200,-100,0,100,200,300,400,500,600,700,800,900], "labelExpr": "'' + datum.value", "title": "Time (ms)", "labelPadding": 9, "titlePadding": 2}},
     "y": {"field": "v", "type": "quantitative", "scale": {"domain": [0, 2], "nice": false}, "axis": {"orient": "left", "values": [0,0.2,0.4,0.6,0.8,1,1.2,1.4,1.6,1.8,2], "format": ".1f", "title": "Microsaccade rate (1/s)", "labelPadding": 7, "titlePadding": 2}},
     "color": {"field": "c", "type": "nominal", "scale": {"domain": ["Invisible", "Visible", "Physical disappearance"], "range": ["#0000ff", "#0c850c", "#a33b0d"]}, "legend": null}}},
   {"data": {"values": [{}]}, "mark": {"type": "rule", "color": "#ff0000", "strokeWidth": 1.5},
    "encoding": {"x": {"datum": 0, "type": "quantitative", "axis": {"orient": "top", "values": [-300,-200,-100,0,100,200,300,400,500,600,700,800,900], "labels": false, "title": null}}}},
   {"data": {"values": [{}]}, "mark": {"type": "text", "text": "(C) WA", "align": "left", "baseline": "middle", "font": "Liberation Serif", "fontSize": 16, "color": "#000"},
    "encoding": {"x": {"datum": -708, "type": "quantitative", "axis": null}, "y": {"datum": 1.09, "type": "quantitative", "axis": {"orient": "right", "values": [0,0.2,0.4,0.6,0.8,1,1.2,1.4,1.6,1.8,2], "labels": false, "title": null}}}}
  ]
 },
 {
  "width": 312, "height": 127,
  "resolve": {"axis": {"x": "independent", "y": "independent"}},
  "layer": [
   {"data": {"name": "ind"}, "transform": [{"filter": "datum.p == 'D'"}], "mark": {"type": "line", "strokeWidth": 3.5, "strokeJoin": "round"},
    "encoding": {"x": {"field": "t", "type": "quantitative", "scale": {"domain": [-300, 950], "nice": false, "zero": false}, "axis": {"orient": "bottom", "values": [-300,-200,-100,0,100,200,300,400,500,600,700,800,900], "labelExpr": "'' + datum.value", "title": "Time (ms)", "labelPadding": 9, "titlePadding": 2}},
     "y": {"field": "v", "type": "quantitative", "scale": {"domain": [0, 2], "nice": false}, "axis": {"orient": "left", "values": [0,0.2,0.4,0.6,0.8,1,1.2,1.4,1.6,1.8,2], "format": ".1f", "title": "Microsaccade rate (1/s)", "labelPadding": 7, "titlePadding": 2}},
     "color": {"field": "c", "type": "nominal", "scale": {"domain": ["Invisible", "Visible", "Physical disappearance"], "range": ["#0000ff", "#0c850c", "#a33b0d"]}, "legend": null}}},
   {"data": {"values": [{}]}, "mark": {"type": "rule", "color": "#ff0000", "strokeWidth": 1.5},
    "encoding": {"x": {"datum": 0, "type": "quantitative", "axis": {"orient": "top", "values": [-300,-200,-100,0,100,200,300,400,500,600,700,800,900], "labels": false, "title": null}}}},
   {"data": {"values": [{}]}, "mark": {"type": "text", "text": "(D) DA", "align": "left", "baseline": "middle", "font": "Liberation Serif", "fontSize": 16, "color": "#000"},
    "encoding": {"x": {"datum": -708, "type": "quantitative", "axis": null}, "y": {"datum": 1.28, "type": "quantitative", "axis": {"orient": "right", "values": [0,0.2,0.4,0.6,0.8,1,1.2,1.4,1.6,1.8,2], "labels": false, "title": null}}}},
   {"data": {"values": [{}]}, "mark": {"type": "rule", "color": "#000", "strokeWidth": 1.5},
    "encoding": {"x": {"datum": 0, "type": "quantitative", "axis": null}, "y": {"datum": -0.47, "type": "quantitative", "axis": null}, "y2": {"datum": -0.76}}},
   {"data": {"values": [{}]}, "mark": {"type": "point", "shape": "triangle-up", "filled": true, "color": "#000", "opacity": 1, "size": 100},
    "encoding": {"x": {"datum": 0, "type": "quantitative", "axis": null}, "y": {"datum": -0.4, "type": "quantitative", "axis": null}}},
   {"data": {"values": [{}]}, "mark": {"type": "text", "text": "Surround on", "align": "left", "baseline": "alphabetic", "font": "Liberation Serif", "fontSize": 18, "fontWeight": "bold", "color": "#000"},
    "encoding": {"x": {"datum": 24, "type": "quantitative", "axis": null}, "y": {"datum": -0.71, "type": "quantitative", "axis": null}}}
  ]
 }
 ]
 }
]
}
